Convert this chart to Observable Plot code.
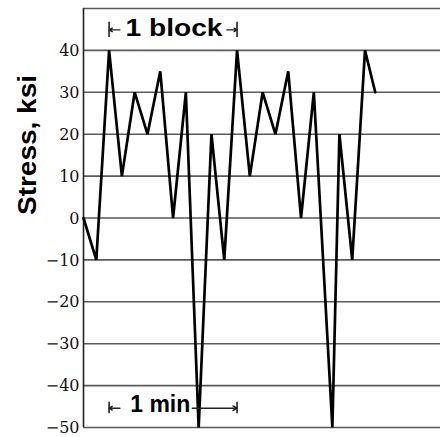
<!DOCTYPE html>
<html>
<head>
<meta charset="utf-8">
<script src="https://cdn.jsdelivr.net/npm/d3@7"></script>
<script src="https://cdn.jsdelivr.net/npm/@observablehq/plot@0.6"></script>
<style>
  html, body { margin: 0; padding: 0; background: #fff; }
  #chart svg { display: block; background: #fff; }
</style>
</head>
<body>
<div id="chart"></div>
<script>
// ---- data ----
const time   = [0, 1, 2, 3, 4, 5, 6, 7, 8, 9, 10, 11, 12, 13, 14, 15, 16, 17, 18, 19.45, 20, 21, 22, 22.8];
const stress = [0, -10, 40, 10, 30, 20, 35, 0, 30, -50, 20, -10, 40, 10, 30, 20, 35, 0, 30, -50, 20, -10, 40, 30];
const yTicks = [-50, -40, -30, -20, -10, 0, 10, 20, 30, 40];
const gridLevels = [-50, -40, -30, -20, -10, 0, 10, 20, 30, 40, 50];
const yLabel = "Stress, ksi";
const blockLabel = "1 block";
const minLabel = "1 min";
const blockSpan = [2, 12];
const minSpan = [2, 12];

const series = time.map((t, i) => ({t, s: stress[i]}));

const plot = Plot.plot({
  width: 440,
  height: 437,
  marginLeft: 83,
  marginRight: 0,
  marginTop: 8,
  marginBottom: 10,
  style: {background: "#fff", color: "#111"},
  x: {domain: [0, 27.9], axis: null},
  y: {domain: [-50, 50], axis: null},
  marks: [
    Plot.ruleY(gridLevels, {stroke: "#5a5a5a", strokeWidth: 1.6}),
    Plot.ruleX([0], {stroke: "#222", strokeWidth: 1.6}),
    Plot.line(series, {x: "t", y: "s", stroke: "#000", strokeWidth: 2.7, strokeLinejoin: "miter", curve: "linear"}),
    Plot.axisY(yTicks, {tickSize: 0, tickPadding: 4, fontFamily: "DejaVu Serif", fontSize: 16, dy: 0.5, label: null}),
    Plot.text([yLabel], {frameAnchor: "left", dx: -56, dy: -3, rotate: -90, fontFamily: "Liberation Sans", fontWeight: "bold", fontSize: 25, fill: "#000"}),
    // "1 block" dimension
    Plot.ruleX(blockSpan, {y1: 43.1, y2: 46.7, stroke: "#222", strokeWidth: 1.6}),
    Plot.arrow([0], {x1: 2.85, x2: blockSpan[0], y1: 44.9, y2: 44.9, headLength: 5, strokeWidth: 1.4, stroke: "#222"}),
    Plot.arrow([0], {x1: 11.2, x2: blockSpan[1], y1: 44.9, y2: 44.9, headLength: 5, strokeWidth: 1.4, stroke: "#222"}),
    Plot.text([blockLabel], {x: 7.07, y: 45.3, fontFamily: "Liberation Sans", fontWeight: "bold", fontSize: 24, fill: "#000"}),
    // "1 min" dimension
    Plot.ruleX(minSpan, {y1: -44.0, y2: -46.7, stroke: "#222", strokeWidth: 1.6}),
    Plot.arrow([0], {x1: 2.85, x2: minSpan[0], y1: -45.4, y2: -45.4, headLength: 5, strokeWidth: 1.4, stroke: "#222"}),
    Plot.arrow([0], {x1: 8.5, x2: minSpan[1], y1: -45.4, y2: -45.4, headLength: 5, strokeWidth: 1.4, stroke: "#222"}),
    Plot.text([minLabel], {x: 6.0, y: -44.6, fontFamily: "Liberation Sans", fontWeight: "bold", fontSize: 23, fill: "#000"})
  ]
});

// stretch the bold labels like the reference lettering
d3.select(plot).selectAll("text").each(function() {
  const t = this.textContent.trim();
  if (t === blockLabel) { this.setAttribute("textLength", 97); this.setAttribute("lengthAdjust", "spacingAndGlyphs"); }
  if (t === minLabel) { this.setAttribute("textLength", 60); this.setAttribute("lengthAdjust", "spacingAndGlyphs"); }
  if (t === yLabel) { this.setAttribute("textLength", 140); this.setAttribute("lengthAdjust", "spacingAndGlyphs"); }
});

document.getElementById("chart").appendChild(plot);
</script>
</body>
</html>
